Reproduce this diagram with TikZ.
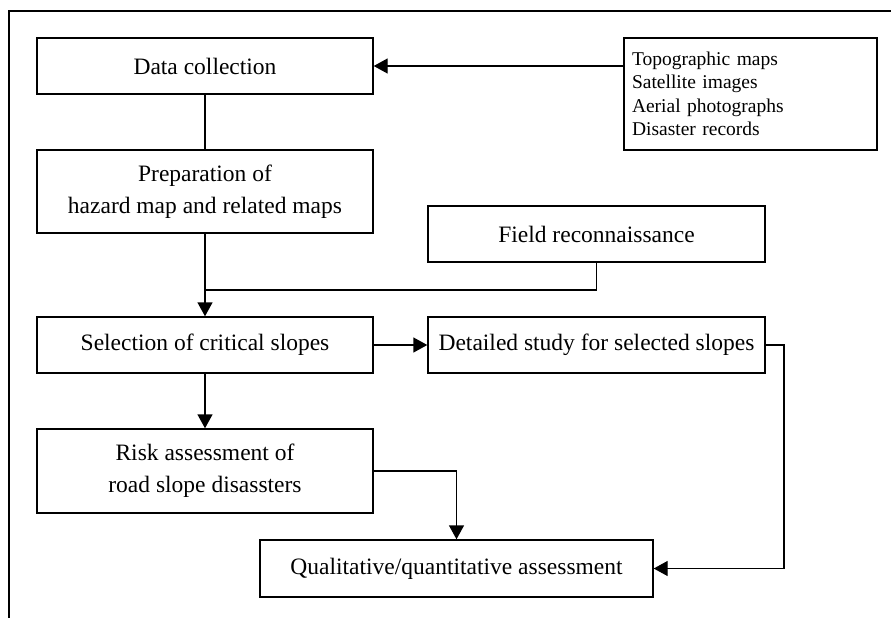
\documentclass[tikz,border=0pt]{standalone}
\usepackage{fontspec}
\setmainfont{Liberation Serif}
\usetikzlibrary{arrows.meta}
\usetikzlibrary{positioning}

\begin{document}
\begin{tikzpicture}[x=1pt,y=-1pt]
	%\draw[help lines] (0,0) grid (891,618);
	
	\tikzstyle{snode} = [draw,line width=1.4pt,align=center,inner sep=0pt,font=\fontsize{23.5}{32}\selectfont]
	\tikzstyle{lnode} = [draw,line width=1.4pt,align=left,inner xsep=8pt,inner ysep=0pt,font=\fontsize{19.5}{23.5}\selectfont]
	\tikzstyle{vedge} = [-{Triangle[length=14pt,width=15pt]},line width=1.4pt]
	\tikzstyle{pedge} = [line width=1.4pt]
	
	\useasboundingbox (0,0) rectangle (891,618);
	\draw[line width=1.4pt] (9,618) -- (9,11) -- (891,11);
	
	\node[snode,minimum width=336pt,minimum height=56pt] (dc) at (205, 66) {Data collection};
	\node[lnode,text width=237pt,minimum height=112pt] (src) at (750.5, 94) {Topographic maps\\Satellite images\\Aerial photographs\\Disaster records};
	
	\node[snode,minimum width=336pt,minimum height=83pt] (prep) at (205, 191.5) {Preparation of\\hazard map and related maps};
	\node[snode,minimum width=337pt,minimum height=56pt] (field) at (596.5, 234) {Field reconnaissance};
	
	\node[snode,minimum width=336pt,minimum height=56pt] (sel) at (205, 345) {Selection of critical slopes};
	\node[snode,minimum width=337pt,minimum height=56pt] (det) at (596.5, 345) {Detailed study for selected slopes};
	
	\node[snode,minimum width=336pt,minimum height=84pt] (risk) at (205, 471) {Risk assessment of\\road slope disassters};
	\node[snode,minimum width=393pt,minimum height=57pt] (qual) at (456.5, 568.5) {Qualitative/quantitative assessment};
	
	\coordinate (j1) at (205, 290);
	\coordinate (r1) at (784, 345);
	
	\draw (dc.east -| src.west) edge [vedge] (dc.east);
	\draw (dc) edge [pedge] (prep);
	\draw (prep) edge [vedge] (sel);
	\draw[pedge] (field.south) |- (j1);
	\draw (sel) edge [vedge] (det);
	\draw (sel) edge [vedge] (risk);
	\draw[vedge] (risk.east) -| (qual.north);
	\draw[vedge] (det.east) -- (r1) |- (qual.east);

\end{tikzpicture}
\end{document}
